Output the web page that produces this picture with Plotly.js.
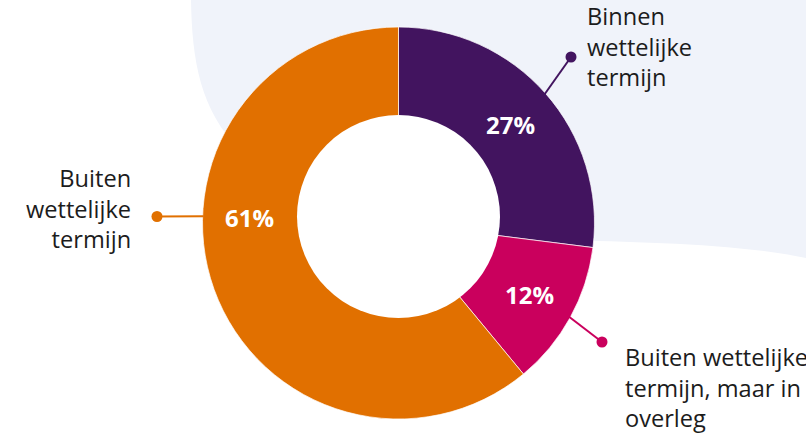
<!DOCTYPE html>
<html>
<head>
<meta charset="utf-8">
<script src="https://cdn.plot.ly/plotly-3.0.1.min.js"></script>
<style>html,body{margin:0;padding:0;background:#fff}#chart{width:806px;height:435px}</style>
</head>
<body>
<div id="chart"></div>
<script>
// ---- data ----
const categories = ["Binnen wettelijke termijn", "Buiten wettelijke termijn, maar in overleg", "Buiten wettelijke termijn"];
const calloutTexts = ["Binnen<br>wettelijke<br>termijn", "Buiten wettelijke<br>termijn, maar in<br>overleg", "Buiten<br>wettelijke<br>termijn"];
const values = [27, 12, 61];
const colors = ["#42145f", "#ca005d", "#e17000"];

// ---- geometry (pixels) ----
const W = 806, H = 435;
const CX = 398.5, CY = 223, R = 196;
const X = p => p / W;
const Y = p => 1 - p / H;

const total = values.reduce((a, b) => a + b, 0);
// label angle per slice: mid-angle, with the large slice's label placed at its horizontal side
const labelAngleOverride = [null, null, 272];
let cum = 0;
const midAngles = values.map(v => { const a = (cum + v / 2) / total * 360; cum += v; return a; });
const labelAngles = midAngles.map((a, i) => labelAngleOverride[i] == null ? a : labelAngleOverride[i]);
const polar = (ang, r) => {
  const t = ang * Math.PI / 180;
  return [CX + r * Math.sin(t), CY - r * Math.cos(t)];
};

const annotations = [];
values.forEach((v, i) => {
  const [px, py] = polar(labelAngles[i], 149);
  annotations.push({
    xref: 'paper', yref: 'paper', x: X(px), y: Y(py), xanchor: 'center', yanchor: 'middle',
    text: Math.round(v / total * 100) + '%', showarrow: false,
    font: {family: 'Open Sans', size: 24, color: '#ffffff', weight: 700}
  });
});

// callout labels
const calloutPos = [
  {x: 585, y: 46, xanchor: 'left', align: 'left'},
  {x: 623, y: 387, xanchor: 'left', align: 'left'},
  {x: 133, y: 208, xanchor: 'right', align: 'right'}
];
const dotPos = [[571, 57], [602, 342], [157, 216.5]];
calloutTexts.forEach((t, i) => {
  const c = calloutPos[i];
  annotations.push({
    xref: 'paper', yref: 'paper', x: X(c.x), y: Y(c.y), xanchor: c.xanchor, yanchor: 'middle',
    align: c.align, text: t, showarrow: false,
    font: {family: 'Open Sans', size: 23.6, color: '#1c1c1c'}
  });
});

const shapes = [];
// background blob
const blob = [[191,0],[192,60],[200,110],[240,150],[560,240],[640,242],[740,244],[806,258],[806,0]];
const f = pt => X(pt[0]).toFixed(5) + ',' + Y(pt[1]).toFixed(5);
shapes.push({
  type: 'path', xref: 'paper', yref: 'paper', layer: 'below',
  path: 'M ' + f(blob[0]) + ' C ' + f(blob[1]) + ' ' + f(blob[2]) + ' ' + f(blob[3]) +
        ' L ' + f(blob[4]) + ' C ' + f(blob[5]) + ' ' + f(blob[6]) + ' ' + f(blob[7]) +
        ' L ' + f(blob[8]) + ' Z',
  fillcolor: '#f0f3fa', line: {width: 0}
});
// white hole
const HX = 398.5, HY = 216.5, HR = 101.5;
shapes.push({
  type: 'circle', xref: 'paper', yref: 'paper', layer: 'above',
  x0: X(HX - HR), x1: X(HX + HR), y0: Y(HY + HR), y1: Y(HY - HR),
  fillcolor: '#ffffff', line: {width: 0}
});
// leader lines + dots
values.forEach((v, i) => {
  const [sx, sy] = polar(labelAngles[i], R - 1);
  const [dx, dy] = dotPos[i];
  shapes.push({type: 'line', xref: 'paper', yref: 'paper', layer: 'above',
    x0: X(sx), y0: Y(sy), x1: X(dx), y1: Y(dy), line: {color: colors[i], width: 2}});
  const r = 5.5;
  shapes.push({type: 'circle', xref: 'paper', yref: 'paper', layer: 'above',
    x0: X(dx - r), x1: X(dx + r), y0: Y(dy + r), y1: Y(dy - r),
    fillcolor: colors[i], line: {width: 0}});
});

const trace = {
  type: 'pie', labels: categories, values: values, sort: false,
  direction: 'clockwise', rotation: 0, hole: 0.47,
  marker: {colors: colors, line: {color: 'rgba(255,255,255,0.7)', width: 1}},
  textinfo: 'none', hoverinfo: 'skip',
  domain: {x: [X(CX - R), X(CX + R)], y: [Y(CY + R), Y(CY - R)]}
};

const layout = {
  width: W, height: H, margin: {l: 0, r: 0, t: 0, b: 0},
  paper_bgcolor: '#ffffff', showlegend: false,
  shapes: shapes, annotations: annotations
};

Plotly.newPlot('chart', [trace], layout, {staticPlot: true, displayModeBar: false});
</script>
</body>
</html>
